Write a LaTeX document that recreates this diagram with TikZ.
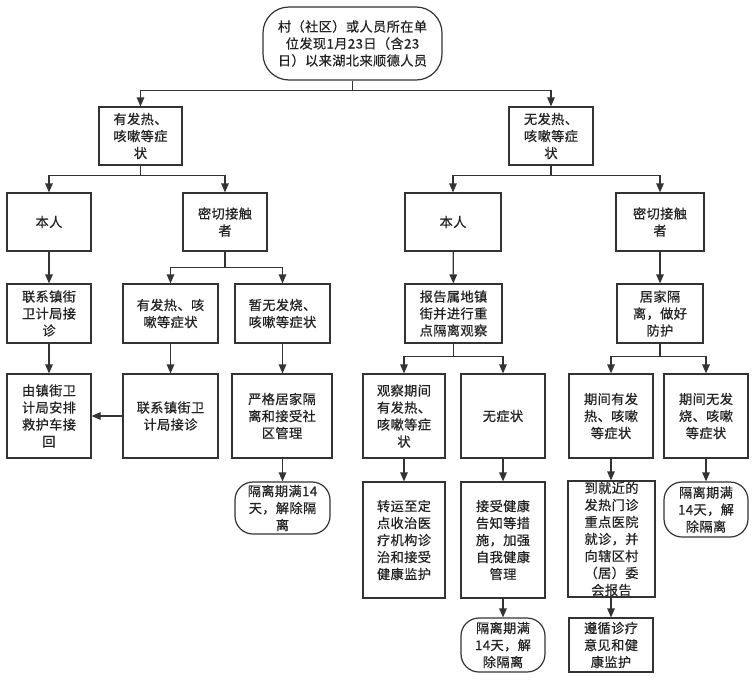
\documentclass[tikz,border=0pt]{standalone}
\usepackage{fontspec}
\setmainfont{Noto Sans CJK SC}[FakeBold=0.5, LetterSpace=3]
\usetikzlibrary{arrows.meta}
\definecolor{lc}{HTML}{333333}
\definecolor{tc}{HTML}{222222}
\begin{document}
\begin{tikzpicture}[x=1pt,y=-1pt,
  box/.style={draw=lc, line width=1.2pt, inner sep=0pt, align=center,
    font=\fontsize{13.2}{17}\selectfont, text=tc, fill=white},
  stad/.style={box, rounded corners=18pt},
  arr/.style={draw=lc, line width=1.2pt, -{Triangle[length=9pt,width=7.5pt]}},
  lnk/.style={draw=lc, line width=1.2pt}]
\fill[white] (0,0) rectangle (754,686);
\useasboundingbox (0,0) rectangle (754,686);

% level 0
\node[box, rounded corners=26pt, minimum width=179pt, minimum height=73pt] (top) at (352.5,43.5)
  {村（社区）或人员所在单\\位发现1月23日（含23\\日）以来湖北来顺德人员};

% level 1
\node[box, minimum width=83pt, minimum height=58pt] (yes) at (140.5,136) {有发热、\\咳嗽等症\\状};
\node[box, minimum width=84pt, minimum height=58pt] (no) at (551,136) {无发热、\\咳嗽等症\\状};

% level 2
\node[box, minimum width=84pt, minimum height=58pt] (selfL) at (49,222) {本人};
\node[box, minimum width=84pt, minimum height=58pt] (contL) at (225,222) {密切接触\\者};
\node[box, minimum width=96pt, minimum height=58pt] (selfR) at (453,222) {本人};
\node[box, minimum width=88pt, minimum height=58pt] (contR) at (660,222) {密切接触\\者};

% level 3
\node[box, minimum width=84pt, minimum height=59pt] (callL) at (49,313.5) {联系镇街\\卫计局接\\诊};
\node[box, minimum width=95pt, minimum height=59pt] (feverC) at (170.5,313.5) {有发热、咳\\嗽等症状};
\node[box, minimum width=95pt, minimum height=59pt] (nofevC) at (282.5,313.5) {暂无发烧、\\咳嗽等症状};
\node[box, minimum width=97pt, minimum height=59pt] (report) at (453.5,313.5) {报告属地镇\\街并进行重\\点隔离观察};
\node[box, minimum width=86pt, minimum height=59pt] (home) at (660,313.5) {居家隔\\离，做好\\防护};

% level 4
\node[box, minimum width=84pt, minimum height=84pt] (ambul) at (49,416) {由镇街卫\\计局安排\\救护车接\\回};
\node[box, minimum width=95pt, minimum height=84pt] (callC) at (170.5,416) {联系镇街卫\\计局接诊};
\node[box, minimum width=100pt, minimum height=84pt] (strict) at (282,416) {严格居家隔\\离和接受社\\区管理};
\node[box, minimum width=82pt, minimum height=84pt] (obsF) at (404,416) {观察期间\\有发热、\\咳嗽等症\\状};
\node[box, minimum width=84pt, minimum height=84pt] (nosym) at (503,416) {无症状};
\node[box, minimum width=84pt, minimum height=84pt] (perF) at (611,416) {期间有发\\热、咳嗽\\等症状};
\node[box, minimum width=84pt, minimum height=84pt] (perN) at (706,416) {期间无发\\烧、咳嗽\\等症状};

% level 5
\node[stad, minimum width=95pt, minimum height=52pt] (endL) at (282.5,508) {隔离期满14\\天，解除隔\\离};
\node[box, minimum width=82pt, minimum height=116pt] (trans) at (404,540) {转运至定\\点收治医\\疗机构诊\\治和接受\\健康监护};
\node[box, minimum width=84pt, minimum height=116pt] (accept) at (503,540) {接受健康\\告知等措\\施，加强\\自我健康\\管理};
\node[box, minimum width=87pt, minimum height=116pt] (clinic) at (611.5,539) {到就近的\\发热门诊\\重点医院\\就诊，并\\向辖区村\\（居）委\\会报告};
\node[stad, minimum width=84pt, minimum height=55pt] (endR) at (706,509.5) {隔离期满\\14天，解\\除隔离};

% level 6
\node[stad, minimum width=84pt, minimum height=54pt] (endM) at (503,645) {隔离期满\\14天，解\\除隔离};
\node[box, minimum width=84pt, minimum height=54pt] (follow) at (611,645) {遵循诊疗\\意见和健\\康监护};

% connectors
\draw[arr] (top.south) -- ++(0,10) -| (yes.north);
\draw[arr] (top.south) -- ++(0,10) -| (no.north);
\draw[arr] (yes.south) -- ++(0,10) -| (selfL.north);
\draw[arr] (yes.south) -- ++(0,10) -| (contL.north);
\draw[arr] (no.south) -- ++(0,10) -| (selfR.north);
\draw[arr] (no.south) -- ++(0,10) -| (contR.north);

\draw[arr] (selfL) -- (callL);
\draw[arr] (contL.south) -- ++(0,16) -| (feverC.north);
\draw[arr] (contL.south) -- ++(0,16) -| (nofevC.north);
\draw[arr] (selfR) -- (report);
\draw[arr] (contR) -- (home);

\draw[arr] (callL) -- (ambul);
\draw[arr] (feverC) -- (callC);
\draw[arr] (callC) -- (ambul);
\draw[arr] (nofevC.south) -- (strict.north -| nofevC.south);
\draw[arr] (report.south) -- ++(0,13) -| (obsF.north);
\draw[arr] (report.south) -- ++(0,13) -| (nosym.north);
\draw[arr] (home.south) -- ++(0,13) -| (perF.north);
\draw[arr] (home.south) -- ++(0,13) -| (perN.north);

\draw[arr] (strict.south -| endL.north) -- (endL.north);
\draw[arr] (obsF) -- (trans);
\draw[arr] (nosym) -- (accept);
\draw[arr] (perF.south) -- (clinic.north -| perF.south);
\draw[arr] (perN) -- (endR);
\draw[arr] (accept) -- (endM);
\draw[arr] (clinic.south -| follow.north) -- (follow.north);
\end{tikzpicture}
\end{document}
